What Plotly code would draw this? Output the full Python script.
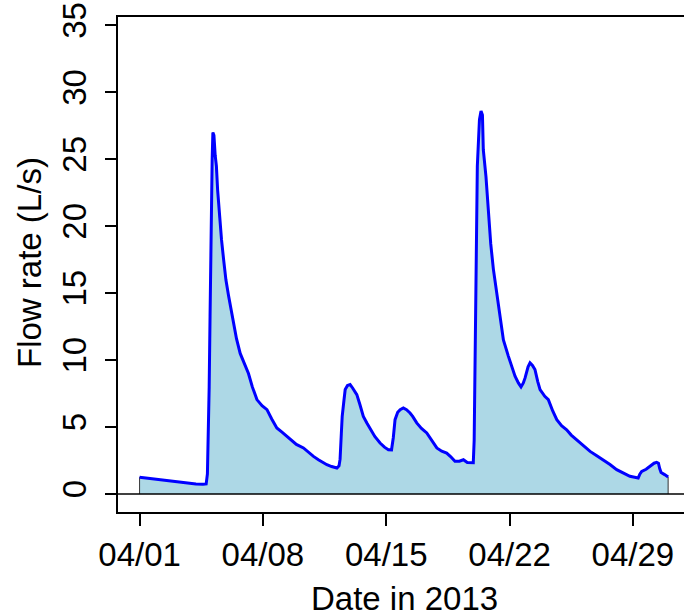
import pandas as pd
import plotly.graph_objects as go

# Flow record for April 2013: elapsed days since 2013-04-01 00:00 and flow in L/s
elapsed_days = [
    0.00, 0.30, 0.70, 1.00, 1.30, 1.70, 2.00, 2.40, 2.80, 3.20, 3.60, 3.78,
    3.85, 3.90, 3.95, 4.00, 4.05, 4.08, 4.12, 4.16, 4.22, 4.29, 4.36, 4.43,
    4.54, 4.65, 4.77, 4.90, 5.05, 5.20, 5.33, 5.50, 5.71, 5.95, 6.18, 6.40,
    6.66, 6.95, 7.23, 7.50, 7.79, 8.10, 8.55, 8.90, 9.30, 9.60, 9.87, 10.15,
    10.40, 10.63, 10.90, 11.20, 11.32, 11.38, 11.45, 11.50, 11.60, 11.67, 11.80, 11.95,
    12.10, 12.33, 12.50, 12.70, 12.90, 13.08, 13.35, 13.65, 13.90, 14.12, 14.30, 14.40,
    14.50, 14.65, 14.79, 14.97, 15.15, 15.35, 15.50, 15.73, 16.00, 16.30, 16.60, 16.87,
    17.15, 17.43, 17.65, 17.90, 18.15, 18.38, 18.60, 18.94, 18.99, 19.04, 19.10, 19.17,
    19.29, 19.38, 19.46, 19.51, 19.66, 19.80, 19.93, 20.08, 20.27, 20.46, 20.65, 20.93,
    21.10, 21.31, 21.50, 21.65, 21.78, 21.88, 22.05, 22.16, 22.30, 22.44, 22.60, 22.73,
    23.00, 23.20, 23.45, 23.68, 23.95, 24.24, 24.50, 24.81, 25.20, 25.57, 25.95, 26.32,
    26.70, 27.08, 27.45, 27.83, 28.10, 28.30, 28.40, 28.50, 28.75, 28.97, 29.20, 29.35,
    29.45, 29.52, 29.60, 29.80, 30.00,
]
flow_lps = [
    1.25, 1.20, 1.15, 1.12, 1.07, 1.00, 0.95, 0.85, 0.80, 0.75, 0.72, 0.75,
    1.50, 4.00, 8.00, 13.3, 20.0, 22.0, 25.0, 27.0, 26.8, 25.3, 24.5, 22.7,
    20.5, 19.0, 17.5, 16.0, 14.8, 13.7, 12.8, 11.6, 10.5, 9.70, 9.00, 8.00,
    7.05, 6.60, 6.30, 5.60, 4.93, 4.60, 4.06, 3.70, 3.44, 3.10, 2.81, 2.56,
    2.35, 2.19, 2.05, 1.94, 2.10, 2.60, 4.50, 5.80, 7.00, 7.80, 8.10, 8.17,
    7.90, 7.42, 6.70, 5.80, 5.30, 4.93, 4.30, 3.81, 3.50, 3.31, 3.30, 4.20,
    5.55, 6.10, 6.30, 6.43, 6.30, 6.05, 5.80, 5.31, 4.90, 4.56, 4.00, 3.44,
    3.20, 3.06, 2.80, 2.44, 2.45, 2.56, 2.35, 2.34, 4.00, 9.50, 18.0, 24.5,
    27.97, 28.6, 28.3, 25.7, 23.7, 20.7, 18.7, 16.8, 15.0, 13.0, 11.5, 10.3,
    9.60, 8.80, 8.30, 8.00, 8.30, 8.67, 9.50, 9.80, 9.60, 9.30, 8.40, 7.80,
    7.30, 7.05, 6.20, 5.55, 5.10, 4.80, 4.40, 4.06, 3.60, 3.18, 2.85, 2.56,
    2.20, 1.82, 1.55, 1.32, 1.25, 1.20, 1.50, 1.69, 1.85, 2.06, 2.30, 2.36,
    2.30, 1.90, 1.60, 1.45, 1.27,
]

tick_dates = ["2013-04-01", "2013-04-08", "2013-04-15", "2013-04-22", "2013-04-29"]
tick_labels = ["04/01", "04/08", "04/15", "04/22", "04/29"]
y_ticks = [0, 5, 10, 15, 20, 25, 30, 35]

start = pd.Timestamp("2013-04-01")
times = start + pd.to_timedelta(elapsed_days, unit="D")

FONT = "Liberation Sans, Arial, sans-serif"
SIZE = 33

fig = go.Figure()

# shaded area under the hydrograph, closed down to zero
poly_x = [times[0]] + list(times) + [times[-1]]
poly_y = [0] + flow_lps + [0]
fig.add_trace(go.Scatter(
    x=poly_x, y=poly_y, mode="lines", fill="toself",
    fillcolor="#ADD8E6", line=dict(color="#333333", width=1),
    hoverinfo="skip", showlegend=False,
))

# hydrograph line
fig.add_trace(go.Scatter(
    x=times, y=flow_lps, mode="lines",
    line=dict(color="#0000FF", width=3),
    showlegend=False,
))

x_left = start - pd.Timedelta(days=1.225)
x_right = start + pd.Timedelta(days=30.9)

fig.update_layout(
    width=684, height=616,
    margin=dict(l=118, r=0, t=17, b=104),
    paper_bgcolor="white", plot_bgcolor="white",
    font=dict(family=FONT, size=SIZE, color="black"),
    xaxis=dict(
        type="date", range=[x_left, x_right],
        tickvals=tick_dates, ticktext=tick_labels,
        showgrid=False, zeroline=False,
        showline=True, linecolor="black", linewidth=2, mirror=True,
        ticks="outside", ticklen=12, tickwidth=1.5, tickcolor="black",
        tickfont=dict(family=FONT, size=SIZE),
    ),
    yaxis=dict(
        range=[-1.345, 35.63],
        tickvals=y_ticks,
        showgrid=False, zeroline=False,
        showline=True, linecolor="black", linewidth=2,
        ticks="outside", ticklen=11, tickwidth=1.5, tickcolor="black",
        tickangle=-90, ticklabelstandoff=6,
        tickfont=dict(family=FONT, size=SIZE),
    ),
    shapes=[dict(
        type="line", xref="paper", yref="y", x0=0, x1=1, y0=0, y1=0,
        line=dict(color="black", width=1.5),
    )],
    annotations=[
        dict(text="Date in 2013", xref="paper", yref="paper",
             x=(404 - 118) / 566, y=(512 - 598) / 495,
             xanchor="center", yanchor="middle", showarrow=False,
             font=dict(family=FONT, size=SIZE)),
        dict(text="Flow rate (L/s)", xref="paper", yref="paper",
             x=(29 - 118) / 566, y=(512 - 263) / 495, textangle=-90,
             xanchor="center", yanchor="middle", showarrow=False,
             font=dict(family=FONT, size=SIZE)),
    ],
)

fig.write_html("out.html")
